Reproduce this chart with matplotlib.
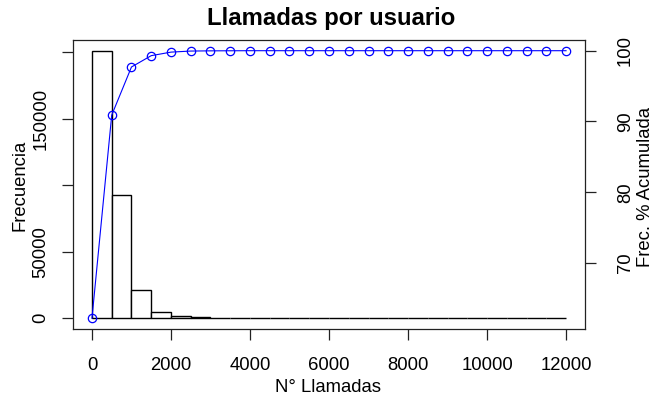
import matplotlib
matplotlib.use("Agg")
import matplotlib.pyplot as plt
import numpy as np

plt.rcParams['font.family'] = ['Liberation Sans', 'DejaVu Sans']

# Data
bin_edges = [0, 500, 1000, 1500, 2000, 2500, 3000, 3500, 4000, 4500, 5000, 5500,
             6000, 6500, 7000, 7500, 8000, 8500, 9000, 9500, 10000, 10500, 11000,
             11500, 12000]
counts = [201000, 92500, 21600, 5000, 1700, 700, 250, 120, 60, 30, 20, 10,
          5, 5, 3, 2, 1, 1, 1, 0, 0, 0, 0, 1]
cum_pct = [62.2, 90.9, 97.7, 99.3, 99.8, 99.95, 99.98, 99.99, 100, 100, 100, 100,
           100, 100, 100, 100, 100, 100, 100, 100, 100, 100, 100, 100, 100]

x_ticks = [0, 2000, 4000, 6000, 8000, 10000, 12000]
x_tick_labels = ['0', '2000', '4000', '6000', '8000', '10000', '12000']
y_ticks = [0, 50000, 100000, 150000, 200000]
y_tick_labels = ['0', '50000', '', '150000', '']
y2_ticks = [70, 80, 90, 100]
y2_tick_labels = ['70', '80', '90', '100']

FS = 13.3
W, H = 654, 398
fig = plt.figure(figsize=(W / 100, H / 100), dpi=100)
L, R, T, B = 73, 585, 40, 329
ax = fig.add_axes([L / W, 1 - B / H, (R - L) / W, (B - T) / H])

lefts = bin_edges[:-1]
widths = np.diff(bin_edges)
ax.bar(lefts, counts, width=widths, align='edge', facecolor='white',
       edgecolor='black', linewidth=1.0)

xr = bin_edges[-1] - bin_edges[0]
ax.set_xlim(bin_edges[0] - 0.04 * xr, bin_edges[-1] + 0.04 * xr)
ymax = max(counts)
ax.set_ylim(-0.04 * ymax, 1.04 * ymax)

ax.set_xticks(x_ticks)
ax.set_xticklabels(x_tick_labels, fontsize=FS)
ax.set_yticks(y_ticks)
ax.set_yticklabels(y_tick_labels, fontsize=FS, rotation=90, va='center')
ax.tick_params(axis='x', length=8, width=0.9, pad=12, colors='#222222', labelcolor='black')
ax.tick_params(axis='y', length=8, width=0.9, pad=9, colors='#222222', labelcolor='black')
for s in ax.spines.values():
    s.set_linewidth(0.9)
    s.set_color('#222222')

ax2 = ax.twinx()
ax2.plot(bin_edges, cum_pct, color='blue', linewidth=0.8, marker='o',
         markersize=6, markerfacecolor='none', markeredgecolor='blue',
         markeredgewidth=0.9, clip_on=False)
pmin = min(cum_pct)
pr = 100 - pmin
ax2.set_ylim(pmin - 0.04 * pr, 100 + 0.04 * pr)
ax2.set_yticks(y2_ticks)
ax2.set_yticklabels(y2_tick_labels, fontsize=FS, rotation=90, va='center')
ax2.tick_params(axis='y', length=8, width=0.9, pad=15, colors='#222222', labelcolor='black')
for s in ax2.spines.values():
    s.set_visible(False)

fig.text(331 / W, 1 - 19 / H, 'Llamadas por usuario', fontsize=17.2,
         fontweight='bold', ha='center', va='center')
fig.text(328 / W, 1 - 388 / H, 'N° Llamadas', fontsize=FS, ha='center', va='center')
fig.text(20 / W, 1 - 185 / H, 'Frecuencia', fontsize=FS, rotation=90,
         ha='center', va='center')
fig.text(645 / W, 1 - 187 / H, 'Frec. % Acumulada', fontsize=FS, rotation=90,
         ha='center', va='center')

fig.savefig('out.png', dpi=100)
